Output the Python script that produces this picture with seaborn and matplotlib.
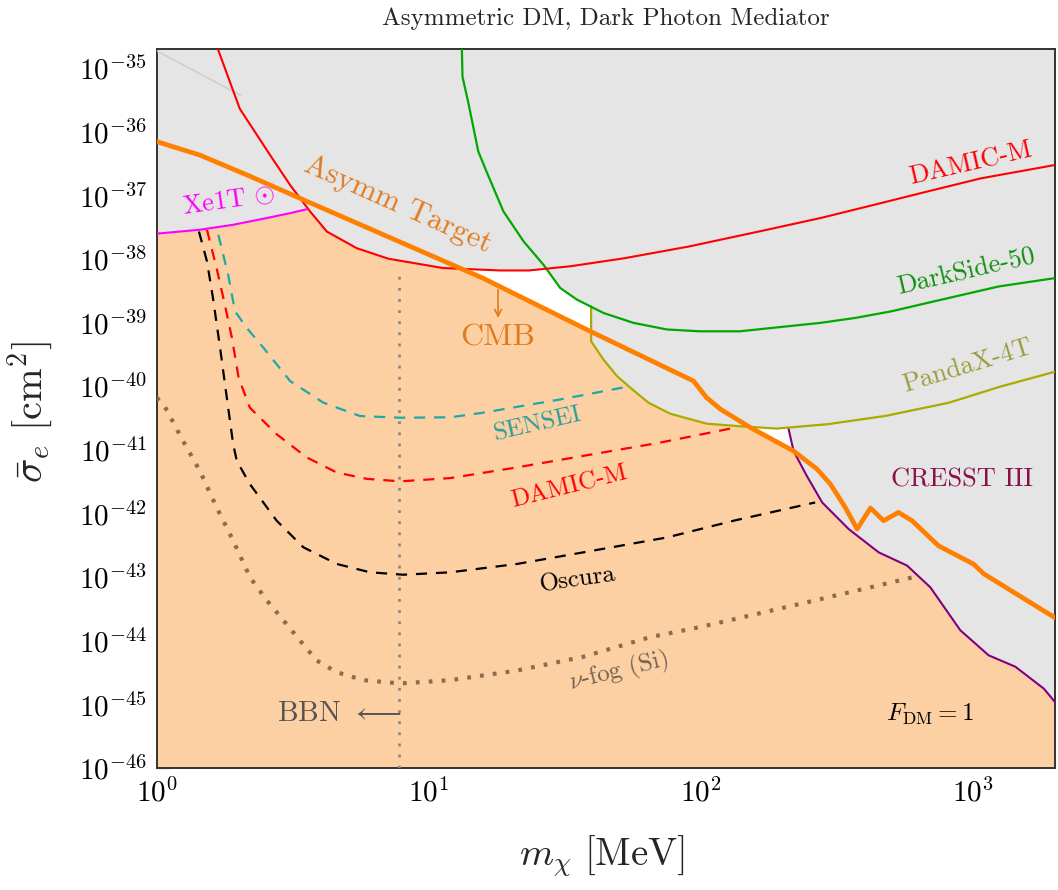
import numpy as np
import pandas as pd
import seaborn as sns
import matplotlib.pyplot as plt
from matplotlib.ticker import LogLocator, FixedLocator, NullFormatter

# ---- data (m_chi in MeV, sigma_e in cm^2) ----
target_m = [1.0, 1.44, 2.2, 3.36, 15.8, 39.2, 93.9, 105, 118, 152, 219, 267, 299, 339, 375,
            420, 469, 532, 597, 747, 1005, 1094, 2000]
target_s = [7.0e-37, 4.3e-37, 2.0e-37, 9.0e-38, 5.0e-39, 7.3e-40, 1.21e-40, 6.6e-41, 4.35e-41,
            2.24e-41, 9.6e-42, 5.0e-42, 2.9e-42, 1.25e-42, 5.7e-43, 1.22e-42, 7.7e-43,
            1.04e-42, 7.7e-43, 3.1e-43, 1.6e-43, 1.13e-43, 2.3e-44]

damic_m = [1.62, 2.02, 2.61, 3.09, 3.66, 4.22, 5.43, 7.1, 11.3, 18.3, 23.3, 33.3, 52.5,
           90.3, 175, 275, 433, 680, 1069, 2000]
damic_s = [3.0e-35, 2.3e-36, 4.3e-37, 1.46e-37, 5.6e-38, 2.7e-38, 1.48e-38, 1.01e-38,
           7.2e-39, 6.6e-39, 6.6e-39, 7.7e-39, 1.03e-38, 1.57e-38, 2.88e-38, 4.4e-38,
           7.1e-38, 1.15e-37, 1.85e-37, 3.0e-37]

ds50_m = [13.2, 13.3, 13.95, 15.2, 16.3, 18.8, 22.3, 26.4, 30.4, 35.0, 43.8, 56.5, 75,
          99, 139, 185, 275, 372, 503, 680, 920, 1243, 2000]
ds50_s = [3e-35, 7.3e-36, 2.95e-36, 4.9e-37, 2.36e-37, 5.6e-38, 1.89e-38, 8.1e-39,
          3.5e-39, 2.3e-39, 1.42e-39, 9.9e-40, 7.8e-40, 7.3e-40, 7.3e-40, 8.3e-40,
          9.9e-40, 1.19e-39, 1.51e-39, 2.04e-39, 2.75e-39, 3.7e-39, 5.0e-39]

panda_m = [39.5, 39.5, 43.8, 49.1, 55.0, 64.2, 77.1, 105, 139, 190, 292, 474, 815, 1243, 2000]
panda_s = [1.8e-39, 5.1e-40, 2.64e-40, 1.45e-40, 9.5e-41, 5.5e-41, 3.7e-41, 2.58e-41,
           2.35e-41, 2.16e-41, 2.53e-41, 3.4e-41, 5.5e-41, 9.7e-41, 1.69e-40]

cresst_m = [210, 219, 245, 279, 349, 450, 572, 697, 898, 1141, 1431, 1820, 2000]
cresst_s = [2.13e-41, 9.6e-42, 3.9e-42, 1.49e-42, 5.7e-43, 2.45e-43, 1.52e-43, 6.9e-44,
            1.46e-44, 5.9e-45, 3.9e-45, 1.77e-45, 1.09e-45]

xe1t_m = [1.0, 1.44, 1.91, 2.54, 3.09, 3.56]
xe1t_s = [2.5e-38, 2.88e-38, 3.45e-38, 4.4e-38, 5.25e-38, 6.05e-38]

faint_m = [1.0, 2.03]
faint_s = [1.86e-35, 3.76e-36]

sensei_m = [1.685, 1.83, 1.94, 2.14, 2.47, 3.09, 4.10, 5.59, 7.85, 12.0, 15.9, 30.4, 53.5]
sensei_s = [2.4e-38, 5.7e-39, 1.51e-39, 8.3e-40, 4.0e-40, 1.21e-40, 5.5e-41, 3.4e-41,
            3.2e-41, 3.25e-41, 3.85e-41, 6.2e-41, 9.8e-41]

damic_proj_m = [1.53, 1.66, 1.78, 1.89, 2.0, 2.20, 2.76, 3.56, 4.59, 5.92, 7.85, 12.0,
                21.1, 37.0, 70.8, 134]
damic_proj_s = [2.88e-38, 7.2e-39, 1.92e-39, 5.75e-40, 1.36e-40, 4.6e-41, 1.76e-41,
                7.6e-42, 4.4e-42, 3.5e-42, 3.2e-42, 3.6e-42, 5.3e-42, 8.05e-42, 1.3e-41, 2.24e-41]

oscura_m = [1.43, 1.53, 1.61, 1.71, 1.81, 1.91, 1.97, 2.20, 2.76, 3.46, 4.59, 6.08, 8.07,
            12.0, 21.1, 37.0, 75, 132, 263]
oscura_s = [2.7e-38, 9.2e-39, 2.44e-39, 4.0e-40, 6.6e-41, 1.23e-41, 6.7e-42, 2.9e-42,
            7.7e-43, 2.94e-43, 1.61e-43, 1.19e-43, 1.09e-43, 1.19e-43, 1.61e-43, 2.45e-43,
            4.2e-43, 7.7e-43, 1.49e-42]

nufog_m = [1.0, 1.06, 1.25, 1.44, 1.66, 1.91, 2.20, 2.54, 2.92, 3.36, 3.87, 4.59, 5.75,
           7.85, 12.0, 21.1, 37.0, 65.1, 99.4, 232, 605]
nufog_s = [6.6e-41, 5.2e-41, 1.38e-41, 4.7e-42, 1.25e-42, 3.75e-43, 1.0e-43, 4.3e-44,
           2.1e-44, 1.01e-44, 4.9e-45, 3.2e-45, 2.4e-45, 2.13e-45, 2.4e-45, 3.4e-45,
           5.6e-45, 1.14e-44, 1.64e-44, 3.8e-44, 1.0e-43]

bbn_m = [7.8, 7.8]
bbn_s = [1e-46, 7e-39]

x_decades = [1e0, 1e1, 1e2, 1e3]
y_decades = [10.0 ** k for k in range(-46, -34)]

# ---- style ----
sns.set_theme(style="ticks")
plt.rcParams.update({
    "font.family": "serif",
    "font.serif": ["cmr10", "DejaVu Serif"],
    "mathtext.fontset": "cm",
    "axes.formatter.use_mathtext": True,
    "axes.unicode_minus": False,
})

PEACH = "#fcd0a3"
GREY = "#e5e5e5"

fig = plt.figure(figsize=(10.58, 8.9), dpi=100)
ax = fig.add_axes([0.1481, 0.1371, 0.8490, 0.8079])
ax.set_xscale("log")
ax.set_yscale("log")

# allowed region below the asymmetric target, excluded region above every bound
ax.fill_between(target_m, 1e-50, target_s, color=PEACH, lw=0, zorder=1)
for m, s in [(xe1t_m, xe1t_s), (damic_m, damic_s), (ds50_m, ds50_s),
             (panda_m, panda_s), (cresst_m, cresst_s)]:
    ax.fill_between(m, s, 1e-30, color=GREY, lw=0, zorder=2)


def curve(m, s, **kw):
    sns.lineplot(x=m, y=s, ax=ax, sort=False, estimator=None, legend=False, **kw)


curve(faint_m, faint_s, color="#cfcfcf", lw=1.2, zorder=3)
curve(bbn_m, bbn_s, color="#888888", lw=2.0, linestyle=(0, (1, 3)), zorder=3)
curve(nufog_m, nufog_s, color="#8c6c4c", lw=3.0, linestyle=(0, (0.9, 2.2)), zorder=3)
curve(oscura_m, oscura_s, color="black", lw=1.6, linestyle=(0, (5, 4)), zorder=4)
curve(damic_proj_m, damic_proj_s, color="#ff0000", lw=1.6, linestyle=(0, (5, 4)), zorder=4)
curve(sensei_m, sensei_s, color="#1aaaaa", lw=1.6, linestyle=(0, (5, 4)), zorder=4)
curve(cresst_m, cresst_s, color="#800080", lw=1.5, zorder=5)
curve(panda_m, panda_s, color="#aaaa00", lw=1.6, zorder=5)
curve(ds50_m, ds50_s, color="#00a800", lw=1.6, zorder=5)
curve(damic_m, damic_s, color="#ff0000", lw=1.5, zorder=5)
curve(xe1t_m, xe1t_s, color="#ff00ff", lw=1.5, zorder=5)
curve(target_m, target_s, color="#ff8000", lw=3.4, zorder=6)

ax.set_xlim(1, 2000)
ax.set_ylim(1e-46, 2e-35)
ax.xaxis.set_major_locator(FixedLocator(x_decades))
ax.yaxis.set_major_locator(FixedLocator(y_decades))
ax.xaxis.set_minor_locator(LogLocator(base=10, subs=np.arange(2, 10), numticks=100))
ax.yaxis.set_minor_locator(LogLocator(base=10, subs=np.arange(2, 10), numticks=100))
ax.xaxis.set_minor_formatter(NullFormatter())
ax.yaxis.set_minor_formatter(NullFormatter())
ax.tick_params(which="both", direction="in", top=False, right=False,
               color="#7a7a7a", labelcolor="black", labelsize=21)
ax.tick_params(which="major", length=9, width=0.9, pad=7)
ax.tick_params(which="minor", length=4.5, width=0.8)
for sp in ax.spines.values():
    sp.set_linewidth(1.4)
    sp.set_color("#333333")
ax.set_xlabel("")
ax.set_ylabel("")

# ---- labels ----
T = ax.transAxes
ax.text(0.906, 0.840, "DAMIC-M", color="#ff0000", fontsize=19, rotation=13,
        ha="center", va="center", transform=T, zorder=7)
ax.text(0.901, 0.690, "DarkSide-50", color="#0e900e", fontsize=19, rotation=13,
        ha="center", va="center", transform=T, zorder=7)
ax.text(0.903, 0.560, "PandaX-4T", color="#9b9b40", fontsize=19, rotation=17,
        ha="center", va="center", transform=T, zorder=7)
ax.text(0.896, 0.401, "CRESST III", color="#8a0f4a", fontsize=19,
        ha="center", va="center", transform=T, zorder=7)
ax.text(0.424, 0.477, "SENSEI", color="#2a9e9e", fontsize=18, rotation=13,
        ha="center", va="center", transform=T, zorder=7)
ax.text(0.459, 0.391, "DAMIC-M", color="#ff0000", fontsize=18, rotation=14,
        ha="center", va="center", transform=T, zorder=7)
ax.text(0.469, 0.261, "Oscura", color="black", fontsize=18, rotation=8,
        ha="center", va="center", transform=T, zorder=7)
ax.text(0.514, 0.134, r"$\nu$-fog (Si)", color="#6f6254", fontsize=18, rotation=14,
        ha="center", va="center", transform=T, zorder=7)
ax.text(0.380, 0.598, "CMB", color="#e07c1e", fontsize=23,
        ha="center", va="center", transform=T, zorder=7)
ax.annotate("", xy=(0.380, 0.622), xytext=(0.380, 0.669), xycoords="axes fraction",
            arrowprops=dict(arrowstyle="->", color="#e07c1e", lw=1.2), zorder=7)
ax.text(0.269, 0.783, "Asymm Target", color="#e07c1e", fontsize=22, rotation=-24,
        ha="center", va="center", transform=T, zorder=7)
ax.text(0.080, 0.789, r"Xe1T $\odot$", color="#ff00ff", fontsize=19, rotation=8,
        ha="center", va="center", transform=T, zorder=7)
ax.text(0.861, 0.074, r"$F_{\rm DM} = 1$", color="black", fontsize=18,
        ha="center", va="center", transform=T, zorder=7)
ax.text(0.272, 0.075, r"BBN $\longleftarrow$", color="#555555", fontsize=21,
        ha="right", va="center", transform=T, zorder=7)

fig.text(0.573, 0.979, "Asymmetric DM, Dark Photon Mediator", fontsize=18,
         ha="center", va="center")
fig.text(0.569, 0.038, r"$m_\chi\ [\mathrm{MeV}]$", fontsize=28, ha="center", va="center")
fig.text(0.028, 0.537, r"$\bar{\sigma}_e\ [\mathrm{cm}^2]$", fontsize=29, rotation=90,
         ha="center", va="center")

fig.savefig("out.png", dpi=100)
